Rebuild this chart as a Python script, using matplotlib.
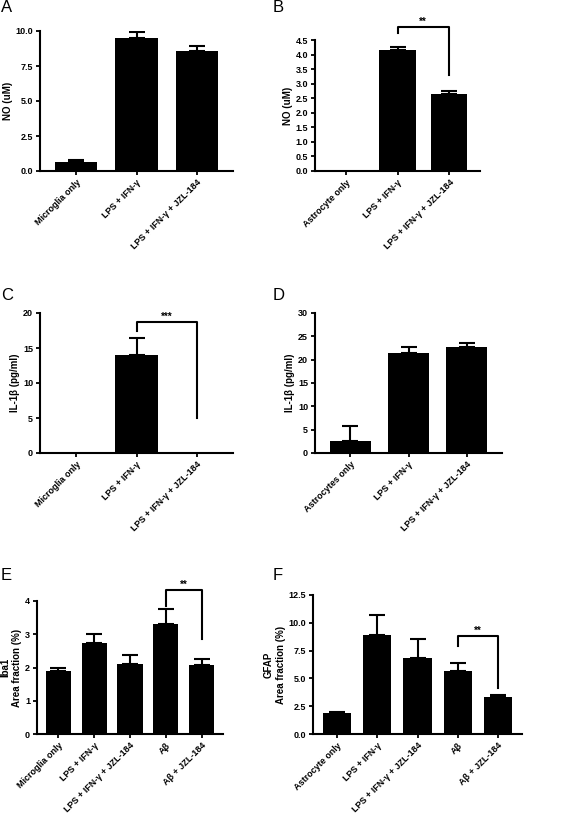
import matplotlib
matplotlib.use("Agg")
import matplotlib.pyplot as plt

plt.rcParams['font.family'] = ['Liberation Sans', 'DejaVu Sans']

catsA = ["Microglia only", "LPS + IFN-γ", "LPS + IFN-γ + JZL-184"]
valsA = [0.65, 9.5, 8.6]; errA = [0.15, 0.4, 0.3]
catsB = ["Astrocyte only", "LPS + IFN-γ", "LPS + IFN-γ + JZL-184"]
valsB = [0.0, 4.15, 2.63]; errB = [0.0, 0.12, 0.12]
catsC = ["Microglia only", "LPS + IFN-γ", "LPS + IFN-γ + JZL-184"]
valsC = [0.0, 14.0, 0.0]; errC = [0.0, 2.5, 0.0]
catsD = ["Astrocytes only", "LPS + IFN-γ", "LPS + IFN-γ + JZL-184"]
valsD = [2.6, 21.5, 22.8]; errD = [3.2, 1.3, 0.7]
catsE = ["Microglia only", "LPS + IFN-γ", "LPS + IFN-γ + JZL-184", "Aβ", "Aβ + JZL-184"]
valsE = [1.9, 2.75, 2.12, 3.32, 2.08]; errE = [0.1, 0.25, 0.27, 0.43, 0.17]
catsF = ["Astrocyte only", "LPS + IFN-γ", "LPS + IFN-γ + JZL-184", "Aβ", "Aβ + JZL-184"]
valsF = [1.9, 8.9, 6.8, 5.65, 3.35]; errF = [0.1, 1.8, 1.7, 0.7, 0.2]

W, H = 566, 827
fig = plt.figure(figsize=(W/100, H/100), dpi=100)

def ax_px(x0, y_top, x1, y_bot):
    return fig.add_axes([x0/W, 1 - y_bot/H, (x1-x0)/W, (y_bot-y_top)/H])

def panel(ax, cats, vals, errs, ymax, yticks, ylabel, fmt, sig=None, letter="", lx=0, ly=0):
    x = list(range(len(cats)))
    ax.bar(x, vals, width=0.7, color='black')
    for xi, v, e in zip(x, vals, errs):
        if e > 0:
            ax.errorbar([xi], [v], yerr=[[0], [e]], fmt='none', ecolor='black', elinewidth=1.5, capsize=6, capthick=1.5)
    ax.set_xlim(-0.6, len(cats)-0.4)
    ax.set_ylim(0, ymax)
    ax.set_yticks(yticks)
    ax.set_yticklabels([fmt.format(t) for t in yticks], fontsize=6.5, fontweight='bold')
    ax.set_xticks(x)
    ax.set_xticklabels(cats, rotation=45, ha='right', rotation_mode='anchor', fontsize=6.5, fontweight='bold')
    ax.set_ylabel(ylabel, fontsize=7, fontweight='bold', labelpad=2)
    for s in ['top', 'right']:
        ax.spines[s].set_visible(False)
    for s in ['left', 'bottom']:
        ax.spines[s].set_linewidth(1.5)
    ax.tick_params(width=1.3, length=3, pad=2)
    if sig:
        i, j, y1, y2, ytop, txt = sig
        ax.plot([i, i, j, j], [y1, ytop, ytop, y2], color='black', lw=1.5, clip_on=False)
        ax.text((i+j)/2, ytop, txt, ha='center', va='bottom', fontsize=7, fontweight='bold')
    fig.text(lx/W, 1 - ly/H, letter, fontsize=12, va='top', ha='left')

a = ax_px(40, 31, 233, 171)
panel(a, catsA, valsA, errA, 10.0, [0, 2.5, 5, 7.5, 10], "NO (uM)", "{:.1f}", letter="A", lx=1, ly=0)
b = ax_px(315, 40, 480, 171)
panel(b, catsB, valsB, errB, 4.5, [0, .5, 1, 1.5, 2, 2.5, 3, 3.5, 4, 4.5], "NO (uM)", "{:.1f}",
      sig=(1, 2, 4.75, 3.3, 4.95, "**"), letter="B", lx=273, ly=0)
c = ax_px(40, 313, 233, 453)
panel(c, catsC, valsC, errC, 20, [0, 5, 10, 15, 20], "IL-1β (pg/ml)", "{:d}",
      sig=(1, 2, 17.5, 5, 18.7, "***"), letter="C", lx=1, ly=288)
d = ax_px(315, 313, 502, 453)
panel(d, catsD, valsD, errD, 30, [0, 5, 10, 15, 20, 25, 30], "IL-1β (pg/ml)", "{:d}", letter="D", lx=273, ly=288)
e = ax_px(37, 601, 223, 734)
panel(e, catsE, valsE, errE, 4, [0, 1, 2, 3, 4], "Iba1\nArea fraction (%)", "{:d}",
      sig=(3, 4, 3.85, 2.85, 4.33, "**"), letter="E", lx=1, ly=568)
f = ax_px(313, 595, 522, 734)
panel(f, catsF, valsF, errF, 12.5, [0, 2.5, 5, 7.5, 10, 12.5], "GFAP\nArea fraction (%)", "{:.1f}",
      sig=(3, 4, 7.9, 4.1, 8.8, "**"), letter="F", lx=273, ly=568)

fig.savefig("out.png", dpi=100)
